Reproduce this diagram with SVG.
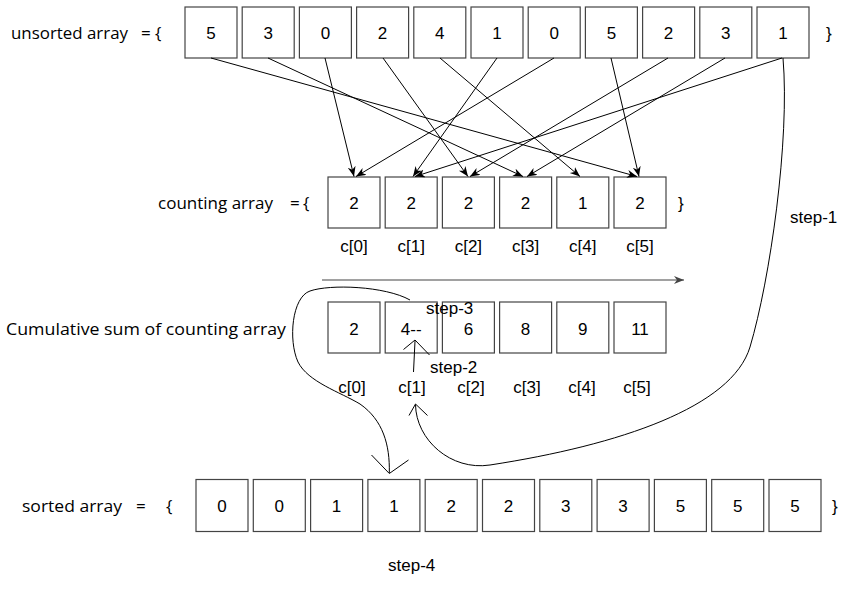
<svg xmlns="http://www.w3.org/2000/svg" width="868" height="592" viewBox="0 0 868 592">
<style>
.box{fill:#ffffff;stroke:#444444;stroke-width:1.2}
.v{font-family:"Liberation Sans",Arial,sans-serif;font-size:17px;fill:#000;text-anchor:middle}
.s{font-family:"Liberation Sans",Arial,sans-serif;font-size:17px;fill:#000}
.lbl{font-family:"Open Sans","Liberation Sans",sans-serif;font-size:17px;fill:#000}
.ln{fill:none;stroke:#000;stroke-width:1}
</style>
<defs>
<marker id="ah" markerUnits="userSpaceOnUse" markerWidth="11" markerHeight="9" refX="10" refY="4" orient="auto">
<path d="M0,0 L10,4 L0,8 L3,4 z" fill="#000"/>
</marker>
<marker id="ahg" markerUnits="userSpaceOnUse" markerWidth="11" markerHeight="9" refX="10" refY="4" orient="auto">
<path d="M0,0 L10,4 L0,8 L3,4 z" fill="#444"/>
</marker>
</defs>
<rect width="868" height="592" fill="#ffffff"/>

<g id="label-unsorted"><text class="lbl" y="39"><tspan x="11" textLength="117" lengthAdjust="spacingAndGlyphs">unsorted array</tspan><tspan x="141">=</tspan><tspan x="155">{</tspan></text><text class="s" x="826" y="39">}</text></g>
<g id="unsorted">
<g id="u0"><rect class="box" x="185" y="7" width="52" height="51"/><text class="v" x="211" y="39">5</text></g>
<g id="u1"><rect class="box" x="242.2" y="7" width="52" height="51"/><text class="v" x="268.2" y="39">3</text></g>
<g id="u2"><rect class="box" x="299.4" y="7" width="52" height="51"/><text class="v" x="325.4" y="39">0</text></g>
<g id="u3"><rect class="box" x="356.6" y="7" width="52" height="51"/><text class="v" x="382.6" y="39">2</text></g>
<g id="u4"><rect class="box" x="413.8" y="7" width="52" height="51"/><text class="v" x="439.8" y="39">4</text></g>
<g id="u5"><rect class="box" x="471" y="7" width="52" height="51"/><text class="v" x="497" y="39">1</text></g>
<g id="u6"><rect class="box" x="528.2" y="7" width="52" height="51"/><text class="v" x="554.2" y="39">0</text></g>
<g id="u7"><rect class="box" x="585.4" y="7" width="52" height="51"/><text class="v" x="611.4" y="39">5</text></g>
<g id="u8"><rect class="box" x="642.6" y="7" width="52" height="51"/><text class="v" x="668.6" y="39">2</text></g>
<g id="u9"><rect class="box" x="699.8" y="7" width="52" height="51"/><text class="v" x="725.8" y="39">3</text></g>
<g id="u10"><rect class="box" x="757" y="7" width="52" height="51"/><text class="v" x="783" y="39">1</text></g>
</g>

<g id="label-counting"><text class="lbl" y="209"><tspan x="158" textLength="115" lengthAdjust="spacingAndGlyphs">counting array</tspan><tspan x="290">=</tspan><tspan x="303">{</tspan></text><text class="s" x="678" y="209">}</text></g>
<g id="counting">
<g id="c0"><rect class="box" x="328" y="177" width="52" height="51"/><text class="v" x="354" y="209">2</text><text class="v" x="354" y="252">c[0]</text></g>
<g id="c1"><rect class="box" x="385.2" y="177" width="52" height="51"/><text class="v" x="411.2" y="209">2</text><text class="v" x="411.2" y="252">c[1]</text></g>
<g id="c2"><rect class="box" x="442.4" y="177" width="52" height="51"/><text class="v" x="468.4" y="209">2</text><text class="v" x="468.4" y="252">c[2]</text></g>
<g id="c3"><rect class="box" x="499.6" y="177" width="52" height="51"/><text class="v" x="525.6" y="209">2</text><text class="v" x="525.6" y="252">c[3]</text></g>
<g id="c4"><rect class="box" x="556.8" y="177" width="52" height="51"/><text class="v" x="582.8" y="209">1</text><text class="v" x="582.8" y="252">c[4]</text></g>
<g id="c5"><rect class="box" x="614" y="177" width="52" height="51"/><text class="v" x="640" y="209">2</text><text class="v" x="640" y="252">c[5]</text></g>
</g>

<g id="label-cumulative"><text class="lbl" x="6" y="335" textLength="280" lengthAdjust="spacingAndGlyphs">Cumulative sum of counting array</text></g>
<g id="cumulative">
<g id="s0"><rect class="box" x="328" y="302" width="52" height="51"/><text class="v" x="354" y="335">2</text><text class="v" x="352" y="393">c[0]</text></g>
<g id="s1"><rect class="box" x="385.2" y="302" width="52" height="51"/><text class="v" x="411.2" y="335">4--</text><text class="v" x="412" y="393">c[1]</text></g>
<g id="s2"><rect class="box" x="442.4" y="302" width="52" height="51"/><text class="v" x="468.4" y="335">6</text><text class="v" x="471" y="393">c[2]</text></g>
<g id="s3"><rect class="box" x="499.6" y="302" width="52" height="51"/><text class="v" x="525.6" y="335">8</text><text class="v" x="527" y="393">c[3]</text></g>
<g id="s4"><rect class="box" x="556.8" y="302" width="52" height="51"/><text class="v" x="582.8" y="335">9</text><text class="v" x="582" y="393">c[4]</text></g>
<g id="s5"><rect class="box" x="614" y="302" width="52" height="51"/><text class="v" x="640" y="335">11</text><text class="v" x="637" y="393">c[5]</text></g>
</g>

<g id="label-sorted"><text class="lbl" y="512"><tspan x="22" textLength="100" lengthAdjust="spacingAndGlyphs">sorted array</tspan><tspan x="136">=</tspan><tspan x="166">{</tspan></text><text class="s" x="832" y="512">}</text></g>
<g id="sorted">
<g id="o0"><rect class="box" x="196" y="479.5" width="52" height="52"/><text class="v" x="222" y="512">0</text></g>
<g id="o1"><rect class="box" x="253.3" y="479.5" width="52" height="52"/><text class="v" x="279.3" y="512">0</text></g>
<g id="o2"><rect class="box" x="310.6" y="479.5" width="52" height="52"/><text class="v" x="336.6" y="512">1</text></g>
<g id="o3"><rect class="box" x="367.9" y="479.5" width="52" height="52"/><text class="v" x="393.9" y="512">1</text></g>
<g id="o4"><rect class="box" x="425.2" y="479.5" width="52" height="52"/><text class="v" x="451.2" y="512">2</text></g>
<g id="o5"><rect class="box" x="482.5" y="479.5" width="52" height="52"/><text class="v" x="508.5" y="512">2</text></g>
<g id="o6"><rect class="box" x="539.8" y="479.5" width="52" height="52"/><text class="v" x="565.8" y="512">3</text></g>
<g id="o7"><rect class="box" x="597.1" y="479.5" width="52" height="52"/><text class="v" x="623.1" y="512">3</text></g>
<g id="o8"><rect class="box" x="654.4" y="479.5" width="52" height="52"/><text class="v" x="680.4" y="512">5</text></g>
<g id="o9"><rect class="box" x="711.7" y="479.5" width="52" height="52"/><text class="v" x="737.7" y="512">5</text></g>
<g id="o10"><rect class="box" x="769" y="479.5" width="52" height="52"/><text class="v" x="795" y="512">5</text></g>
</g>

<g id="steps">
<text class="s" x="790" y="223">step-1</text>
<text class="s" x="430" y="373">step-2</text>
<text class="s" x="426" y="314">step-3</text>
<text class="s" x="388" y="571">step-4</text>
</g>

<g id="connectors">
<line class="ln" x1="211" y1="58" x2="637" y2="176.5" marker-end="url(#ah)"/>
<line class="ln" x1="268" y1="58" x2="523" y2="176.5" marker-end="url(#ah)"/>
<line class="ln" x1="325" y1="58" x2="354" y2="176.5" marker-end="url(#ah)"/>
<line class="ln" x1="383" y1="58" x2="468" y2="176.5" marker-end="url(#ah)"/>
<line class="ln" x1="440" y1="58" x2="580" y2="176.5" marker-end="url(#ah)"/>
<line class="ln" x1="497" y1="58" x2="413" y2="176.5" marker-end="url(#ah)"/>
<line class="ln" x1="554" y1="58" x2="356" y2="176.5" marker-end="url(#ah)"/>
<line class="ln" x1="611" y1="58" x2="639" y2="176.5" marker-end="url(#ah)"/>
<line class="ln" x1="668" y1="58" x2="470" y2="176.5" marker-end="url(#ah)"/>
<line class="ln" x1="725" y1="58" x2="527" y2="176.5" marker-end="url(#ah)"/>
<line class="ln" x1="782" y1="58" x2="415" y2="176.5" marker-end="url(#ah)"/>
<line x1="322" y1="280" x2="684" y2="280" stroke="#444" stroke-width="1.2" marker-end="url(#ahg)"/>
<path class="ln" d="M783,58 C790,140 770,280 750,347 C732,407 620,445 490,465 C451,471 416,440 415.5,404.5"/>
<polyline class="ln" points="409,415.5 415.5,404 427.5,415.5"/>
<path class="ln" d="M410,300 C385,286 330,284 310,291 C292,297 288,340 298,362 C308,382 340,392 360,404 C383,420 390,445 389.3,473"/>
<polyline class="ln" points="371.5,455 389.3,473.5 408.5,460"/>
<line class="ln" x1="413.5" y1="372" x2="415" y2="341"/>
<polyline class="ln" points="403.5,349.5 415,340 429.5,355"/>
</g>
</svg>
